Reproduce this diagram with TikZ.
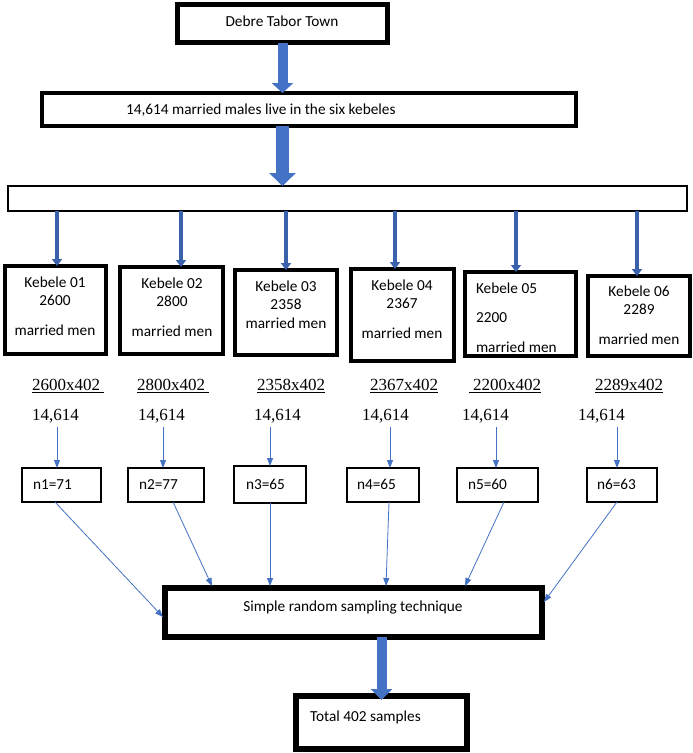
\documentclass[tikz,border=0pt]{standalone}
\usepackage{fontspec}
\setmainfont{Carlito}
\newfontfamily\tnr{Liberation Serif}
\usetikzlibrary{arrows.meta,calc}
\definecolor{offblue}{HTML}{4472C4}
\definecolor{darkblue}{HTML}{3A62AC}
\begin{document}
\begin{tikzpicture}[x=1pt,y=-1pt,
  every node/.style={inner sep=0pt, outer sep=0pt},
  bx/.style={draw=black, line width=#1, fill=white, minimum width=10pt},
  txt/.style={font=\fontsize{15.3}{18}\selectfont, anchor=base},
  txtl/.style={font=\fontsize{15.3}{18}\selectfont, anchor=base west},
  tnrt/.style={font=\tnr\fontsize{17}{19}\selectfont, anchor=base west},
  bigarrow/.style={draw=offblue, line width=#1},
  karrow/.style={draw=darkblue, line width=3.5pt, -{Triangle[width=10pt,length=7pt]}},
  tarrow/.style={draw=offblue, line width=0.8pt, -{Triangle[width=6pt,length=8pt]}}
]
\useasboundingbox (0,0) rectangle (693,753);
\fill[white] (0,0) rectangle (693,753);

% top boxes
\node[bx=5pt, minimum width=210pt, minimum height=38pt] (town) at (282.5,23.5) {};
\node[txt] (townt) at (282,26) {Debre Tabor Town};
\node[bx=4pt, minimum width=534pt, minimum height=33pt] (pop) at (309,109.5) {};
\node[txtl] (popt) at (126,114) {14,614 married males live in the six kebeles};
\node[bx=2pt, minimum width=679pt, minimum height=25pt] (wide) at (347.5,198.5) {};

\draw[bigarrow=10pt, -{Triangle[width=21pt,length=10pt]}] (town.south) -- (pop.north -| town.south);
\draw[bigarrow=13pt, -{Triangle[width=26pt,length=13pt]}] (pop.south -| town.south) -- (wide.north -| town.south);

% kebele boxes
\node[bx=4pt, minimum width=101pt, minimum height=88pt] (k1) at (55.5,310) {};
\node[bx=4pt, minimum width=103pt, minimum height=87pt] (k2) at (171.5,310.5) {};
\node[bx=4pt, minimum width=102pt, minimum height=85pt] (k3) at (286,312.5) {};
\node[bx=4pt, minimum width=103pt, minimum height=92pt] (k4) at (402.5,315) {};
\node[bx=4pt, minimum width=111pt, minimum height=84pt] (k5) at (520.5,314) {};
\node[bx=4pt, minimum width=102pt, minimum height=80pt] (k6) at (639,316) {};

\node[txt] (k1a) at (55,287) {Kebele 01};
\node[txt] (k1b) at (55,305) {2600};
\node[txt] (k1c) at (55,335) {married men};
\node[txt] (k2a) at (172,288) {Kebele 02};
\node[txt] (k2b) at (172,306) {2800};
\node[txt] (k2c) at (172,336) {married men};
\node[txt] (k3a) at (286,291) {Kebele 03};
\node[txt] (k3b) at (286,309) {2358};
\node[txt] (k3c) at (286,328) {married men};
\node[txt] (k4a) at (402,290) {Kebele 04};
\node[txt] (k4b) at (402,308) {2367};
\node[txt] (k4c) at (402,338) {married men};
\node[txtl] (k5a) at (476,293) {Kebele 05};
\node[txtl] (k5b) at (476,322) {2200};
\node[txtl] (k5c) at (476,352) {married men};
\node[txt] (k6a) at (639,296) {Kebele 06};
\node[txt] (k6b) at (639,314) {2289};
\node[txt] (k6c) at (639,344) {married men};

\coordinate (ka1) at (57,0);
\coordinate (ka2) at (181,0);
\coordinate (ka3) at (286,0);
\coordinate (ka4) at (395,0);
\coordinate (ka5) at (516,0);
\coordinate (ka6) at (637,0);
\foreach \i in {1,...,6}{
  \draw[karrow] (wide.south -| ka\i) -- (k\i.north -| ka\i);
}

% fractions
\node[tnrt] (f1) at (32,390.5) {\underline{2600x402\hspace{4pt}}};
\node[tnrt] (f2) at (137,390.5) {\underline{2800x402\hspace{4pt}}};
\node[tnrt] (f3) at (257,390.5) {\underline{2358x402}};
\node[tnrt] (f4) at (370,390.5) {\underline{2367x402}};
\node[tnrt] (f5) at (469,390.5) {\underline{\hspace{4pt}2200x402}};
\node[tnrt] (f6) at (595,390.5) {\underline{2289x402}};

\node[tnrt] (d1) at (32,420.5) {14,614};
\node[tnrt] (d2) at (138,420.5) {14,614};
\node[tnrt] (d3) at (254,420.5) {14,614};
\node[tnrt] (d4) at (362,420.5) {14,614};
\node[tnrt] (d5) at (462,420.5) {14,614};
\node[tnrt] (d6) at (578,420.5) {14,614};

% n boxes
\node[bx=2.5pt, minimum width=79pt, minimum height=34pt] (n1) at (61.5,485) {};
\node[bx=2.5pt, minimum width=76pt, minimum height=34pt] (n2) at (166,485) {};
\node[bx=2.5pt, minimum width=72pt, minimum height=37pt] (n3) at (270,484.5) {};
\node[bx=2.5pt, minimum width=72pt, minimum height=34pt] (n4) at (383,485) {};
\node[bx=2.5pt, minimum width=81pt, minimum height=34pt] (n5) at (497.5,485) {};
\node[bx=2.5pt, minimum width=70pt, minimum height=34pt] (n6) at (622,485) {};
\node[txtl] (n1t) at (33,489) {n1=71};
\node[txtl] (n2t) at (139,489) {n2=77};
\node[txtl] (n3t) at (246,489) {n3=65};
\node[txtl] (n4t) at (357,489) {n4=65};
\node[txtl] (n5t) at (468,489) {n5=60};
\node[txtl] (n6t) at (597,489) {n6=63};

\coordinate (ta1) at (57,0);
\coordinate (ta2) at (163,0);
\coordinate (ta3) at (270,0);
\coordinate (ta4) at (390,0);
\coordinate (ta5) at (496,0);
\coordinate (ta6) at (617,0);
\foreach \i in {1,...,6}{
  \draw[tarrow, shorten <=4pt] (d\i.south -| ta\i) -- (n\i.north -| ta\i);
}

% sampling box
\node[bx=6pt, minimum width=377pt, minimum height=49pt] (srs) at (353.5,612.5) {};
\node[txt] (srst) at (353,611) {Simple random sampling technique};

\draw[tarrow] ($(n1.south)+(-6.5,0)$) -- ($(srs.west)+(-2,4.5)$);
\draw[tarrow] ($(n2.south)+(7,0)$) -- ($(srs.north)+(-141.5,-2)$);
\draw[tarrow] ($(n3.south)+(0,0)$) -- ($(srs.north)+(-83.5,-2)$);
\draw[tarrow] ($(n4.south)+(6,0)$) -- ($(srs.north)+(32.5,-2)$);
\draw[tarrow] ($(n5.south)+(6.5,0)$) -- ($(srs.north)+(111.5,-2)$);
\draw[tarrow] ($(n6.south)+(-5,0)$) -- ($(srs.east)+(2,-10.5)$);

% total box
\node[bx=6pt, minimum width=171pt, minimum height=53pt] (tot) at (381.5,722.5) {};
\node[txtl] (tott) at (310,721) {Total 402 samples};

\draw[bigarrow=10pt, -{Triangle[width=21pt,length=11pt]}] (srs.south -| tot.north) -- ($(tot.north)+(0,4)$);
\end{tikzpicture}
\end{document}
